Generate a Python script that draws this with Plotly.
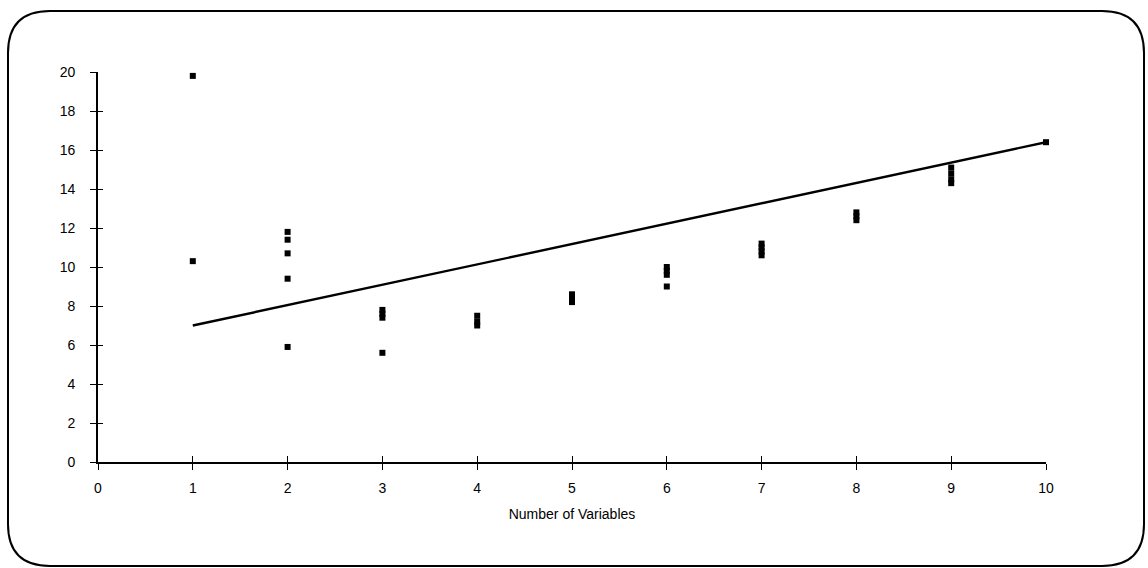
import plotly.graph_objects as go

# Observed values: number of variables in the model vs. the statistic
n_vars = [1, 1,
          2, 2, 2, 2, 2,
          3, 3, 3, 3,
          4, 4, 4,
          5, 5, 5,
          6, 6, 6, 6,
          7, 7, 7, 7,
          8, 8, 8,
          9, 9, 9, 9,
          10]
values = [19.8, 10.3,
          11.8, 11.4, 10.7, 9.4, 5.9,
          7.8, 7.6, 7.4, 5.6,
          7.5, 7.2, 7.0,
          8.6, 8.4, 8.2,
          10.0, 9.8, 9.6, 9.0,
          11.2, 11.0, 10.8, 10.6,
          12.8, 12.6, 12.4,
          15.1, 14.8, 14.5, 14.3,
          16.4]

# Reference line (Cp = p)
line_x = [1, 10]
line_y = [7.0, 16.4]

x_ticks = list(range(0, 11))
y_ticks = list(range(0, 21, 2))

W, H = 1148, 568
L, R, T, B = 98, 102, 72, 106
PW, PH = W - L - R, H - T - B

FONT = "Liberation Sans, Arial, sans-serif"

fig = go.Figure()
fig.add_trace(go.Scatter(
    x=line_x, y=line_y, mode="lines",
    line=dict(color="black", width=2.4),
    hoverinfo="skip", cliponaxis=False, showlegend=False))
fig.add_trace(go.Scatter(
    x=n_vars, y=values, mode="markers",
    marker=dict(symbol="square", size=6, color="black"),
    cliponaxis=False, showlegend=False))


def px_to_paper(px, py):
    return (px - L) / PW, (H - B - py) / PH


def frame_path(x0, y0, x1, y1, r):
    # rounded rectangle, pixel coordinates converted to paper units
    def P(px, py):
        a, b = px_to_paper(px, py)
        return f"{a:.5f},{b:.5f}"
    pts = [
        f"M {P(x0 + r, y0)}",
        f"L {P(x1 - r, y0)}",
        f"Q {P(x1, y0)} {P(x1, y0 + r)}",
        f"L {P(x1, y1 - r)}",
        f"Q {P(x1, y1)} {P(x1 - r, y1)}",
        f"L {P(x0 + r, y1)}",
        f"Q {P(x0, y1)} {P(x0, y1 - r)}",
        f"L {P(x0, y0 + r)}",
        f"Q {P(x0, y0)} {P(x0 + r, y0)}",
        "Z",
    ]
    return " ".join(pts)


fig.add_shape(type="path", xref="paper", yref="paper",
              path=frame_path(8, 11, 1144, 566, 42),
              line=dict(color="black", width=2), layer="below")

axis_common = dict(showgrid=False, zeroline=False, showline=True,
                   linecolor="black", linewidth=1.6, ticks="outside",
                   tickcolor="black", ticklen=6, tickwidth=1.2,
                   tickfont=dict(family=FONT, size=14, color="black"))

fig.update_layout(
    width=W, height=H,
    margin=dict(l=L, r=R, t=T, b=B, autoexpand=False),
    paper_bgcolor="white", plot_bgcolor="white",
    xaxis=dict(range=[0, 10], tickvals=x_ticks, ticklabelstandoff=6,
               title=dict(text="Number of Variables", standoff=15,
                          font=dict(family=FONT, size=14, color="black")),
               **axis_common),
    yaxis=dict(range=[0, 20], tickvals=y_ticks, ticklabelstandoff=12,
               **axis_common),
    # inner halves of the crossing tick marks
    xaxis2=dict(range=[0, 10], overlaying="x", side="bottom", anchor="y",
                tickvals=x_ticks, ticks="inside", ticklen=6, tickwidth=1.2,
                tickcolor="black", showticklabels=False, showgrid=False,
                zeroline=False, showline=False),
    yaxis2=dict(range=[0, 20], overlaying="y", side="left", anchor="x",
                tickvals=y_ticks, ticks="inside", ticklen=5, tickwidth=1.2,
                tickcolor="black", showticklabels=False, showgrid=False,
                zeroline=False, showline=False),
)
# empty trace so the overlay axes are drawn
fig.add_trace(go.Scatter(x=[None], y=[None], xaxis="x2", yaxis="y2",
                         showlegend=False, hoverinfo="skip"))

fig.write_html("out.html")
